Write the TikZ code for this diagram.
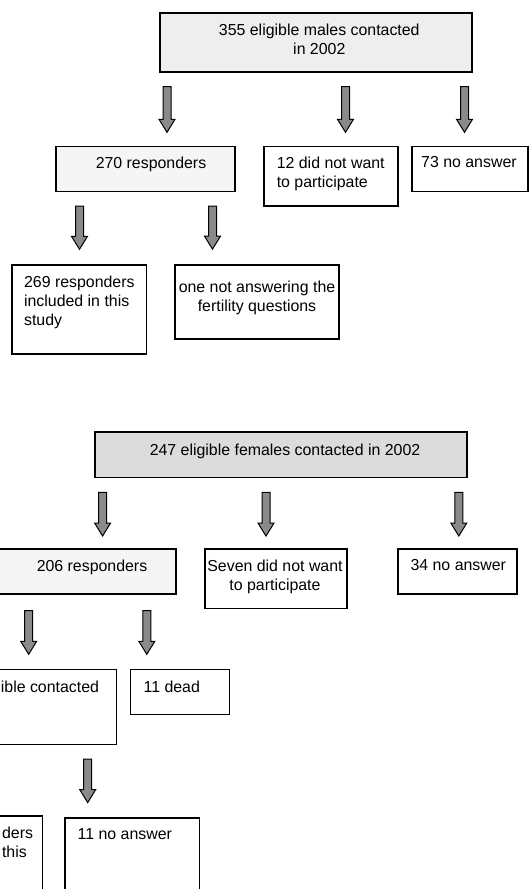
\documentclass[tikz,border=0pt]{standalone}
\usepackage{fontspec}
\setmainfont{Liberation Sans}
\usetikzlibrary{calc,positioning}
\definecolor{BoxGray}{HTML}{EEEEEE}
\definecolor{HeadGray}{HTML}{DCDCDC}
\definecolor{PaleGray}{HTML}{F5F5F5}
\definecolor{ArrowGray}{HTML}{8A8A8A}

\begin{document}
\begin{tikzpicture}[x=1pt,y=-1pt,
    box/.style={draw=black, line width=1.4pt, fill=white, inner sep=0pt},
    txt/.style={inner sep=0pt, font=\fontsize{15.9}{19}\selectfont},
    fat/.style={draw=black, fill=ArrowGray, line width=1pt, line join=miter,
        to path={let \p1=(\tikztostart), \p2=(\tikztotarget) in
            (\x1-4pt,\y1) -- (\x1+4pt,\y1) -- (\x1+4pt,\y2+13pt) -- (\x1+8pt,\y2+13pt)
            -- (\x1,\y2) -- (\x1-8pt,\y2+13pt) -- (\x1-4pt,\y2+13pt) -- cycle}}]
        \useasboundingbox (0,0) rectangle (529,889);
        \clip (0,0) rectangle (529,889);
        \fill[white] (0,0) rectangle (529,889);
        % males
        \node[box, fill=BoxGray, minimum width=312pt, minimum height=59pt] (males) at (316,42.5) {};
        \node[box, fill=PaleGray, minimum width=179pt, minimum height=45pt] (resp) at (145.5,169) {};
        \node[box, minimum width=134pt, minimum height=59.5pt] (refuse) at (331,176.25) {};
        \node[box, minimum width=116pt, minimum height=45pt] (noans) at (470,169) {};
        \node[box, minimum width=134.5pt, minimum height=89pt] (incl) at (79.25,309.5) {};
        \node[box, minimum width=163.7pt, minimum height=74.3pt] (notans) at (257,302) {};
        \node[txt, align=center, below=11.4pt of males.north, xshift=3.3pt] (males-t) {355 eligible males contacted\\in 2002};
        \node[txt, below=10.5pt of resp.north, xshift=5.5pt] (resp-t) {270 responders};
        \node[txt, align=left, below right=10.5pt and 13.3pt of refuse.north west] (refuse-t) {12 did not want\\to participate};
        \node[txt, below right=10.5pt and 9.7pt of noans.north west] (noans-t) {73 no answer};
        \node[txt, align=left, below right=11pt and 12.6pt of incl.north west] (incl-t) {269 responders\\included in this\\study};
        \node[txt, align=center, below=17pt of notans.north] (notans-t) {one not answering the\\fertility questions};
        % females
        \node[box, fill=HeadGray, minimum width=372pt, minimum height=45.3pt] (females) at (281,454.7) {};
        \node[box, fill=PaleGray, minimum width=186pt, minimum height=45pt] (fresp) at (83,571.5) {};
        \node[box, minimum width=142pt, minimum height=59.3pt] (frefuse) at (276,578.7) {};
        \node[box, minimum width=119pt, minimum height=45pt] (fnoans) at (457.5,571.5) {};
        \node[box, minimum width=136.7pt, minimum height=75pt] (felig) at (48.35,706.8) {};
        \node[box, minimum width=98.8pt, minimum height=45.4pt] (fdead) at (180,692) {};
        \node[box, minimum width=132.5pt, minimum height=89pt] (fincl) at (-23.75,860.5) {};
        \node[box, minimum width=134.7pt, minimum height=89pt] (fnoans2) at (132.35,862.5) {};
        \node[txt, below=12pt of females.north, xshift=4pt] (females-t) {247 eligible females contacted in 2002};
        \node[txt, below=11pt of fresp.north, xshift=9pt] (fresp-t) {206 responders};
        \node[txt, align=center, below=11pt of frefuse.north, xshift=-1pt] (frefuse-t) {Seven did not want\\to participate};
        \node[txt, below=11pt of fnoans.north, xshift=0.8pt] (fnoans-t) {34 no answer};
        \node[txt, below left=11.7pt and 18.2pt of felig.north east] (felig-t) {ible contacted};
        \node[txt, below right=11.7pt and 13.5pt of fdead.north west] (fdead-t) {11 dead};
        \node[txt, align=left, below left=11pt and 10pt of fincl.north east] (fincl-t) {ders\\this};
        \node[txt, below right=11pt and 13.2pt of fnoans2.north west] (fnoans2-t) {11 no answer};
        % block arrows
        \foreach \src/\dx/\dy/\tgt/\ty in {males/-149/14/resp/13.5, males/29.5/14/refuse/13.5,
            males/148.5/14/noans/13.5, resp/-66/14/incl/15, resp/67/14/notans/15,
            females/-178.4/14.4/fresp/12.3, females/-15/14.4/frefuse/12.3, females/177.8/14.4/fnoans/12.3,
            fresp/-54.3/16/felig/14.3, fresp/63.8/16/fdead/14.3, felig/39.35/14/fnoans2/14.7}{
            \draw[fat] ([xshift=\dx pt,yshift=-\dy pt]\src.south) to ([yshift=\ty pt]\tgt.north);
        }
    \end{tikzpicture}
\end{document}
